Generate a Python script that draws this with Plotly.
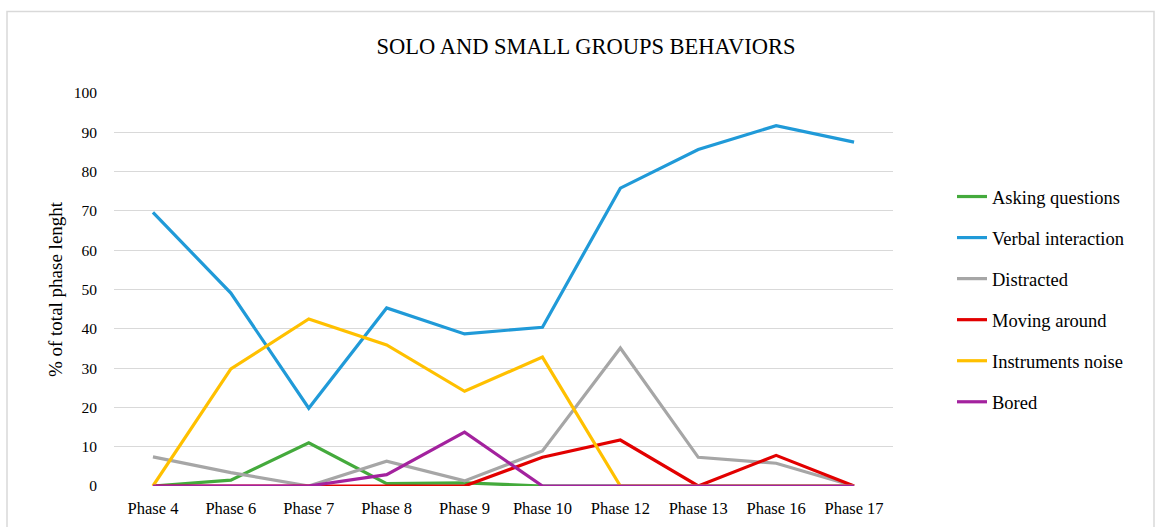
import plotly.graph_objects as go

phases = ["Phase 4", "Phase 6", "Phase 7", "Phase 8", "Phase 9", "Phase 10",
          "Phase 12", "Phase 13", "Phase 16", "Phase 17"]

asking_questions = [0, 1.5, 11.0, 0.6, 0.8, 0, 0, 0, 0, 0]
verbal_interaction = [69.6, 49.1, 19.8, 45.3, 38.7, 40.4, 75.8, 85.6, 91.7, 87.5]
distracted = [7.4, 3.4, 0, 6.3, 1.3, 8.9, 35.1, 7.3, 5.8, 0]
moving_around = [0, 0, 0, 0, 0, 7.3, 11.7, 0, 7.8, 0]
instruments_noise = [0, 29.8, 42.5, 35.9, 24.1, 32.8, 0, 0, 0, 0]
bored = [0, 0, 0, 2.9, 13.7, 0, 0, 0, 0, 0]

series_names = ["Asking questions", "Verbal interaction", "Distracted",
                "Moving around", "Instruments noise", "Bored"]
series_values = [asking_questions, verbal_interaction, distracted,
                 moving_around, instruments_noise, bored]
colors = ["#44AA3C", "#209AD8", "#A6A6A6", "#E20000", "#FFC000", "#A3229E"]

FONT = "Liberation Serif"

fig = go.Figure()
for i, (name, vals, col) in enumerate(zip(series_names, series_values, colors)):
    fig.add_trace(go.Scatter(
        x=phases, y=vals, name=name, mode="lines",
        line=dict(color=col, width=3.2),
        legendgroup=f"g{i}",
    ))

L, R, T, B = 114, 262, 93, 41
W, H = 1155, 527
pw = W - L - R
ph = H - T - B

def px_x(p):
    return (p - L) / pw

def px_y(p):
    return (H - B - p) / ph

fig.update_layout(
    width=W, height=H,
    margin=dict(l=L, r=R, t=T, b=B, autoexpand=False),
    paper_bgcolor="white", plot_bgcolor="white",
    font=dict(family=FONT, color="#000000", size=15),
    title=dict(text="SOLO AND SMALL GROUPS BEHAVIORS", xref="container", x=586 / W,
               xanchor="center", yref="container", y=1 - 46 / H, yanchor="middle",
               font=dict(family=FONT, size=22.5, color="#000000")),
    xaxis=dict(type="category", range=[-0.5, 9.5], showgrid=False, zeroline=False,
               showline=False, ticks="", ticklabelstandoff=10, automargin=False,
               tickfont=dict(size=16.5)),
    yaxis=dict(range=[0, 100], dtick=10, showgrid=True, gridcolor="#D9D9D9",
               gridwidth=1, zeroline=False, showline=False, ticks="",
               ticklabelstandoff=16, automargin=False,
               tickfont=dict(size=15.5),
               title=dict(text="% of total phase lenght", font=dict(size=19), standoff=6)),
    legend=dict(x=px_x(952), xanchor="left", y=px_y(178), yanchor="top",
                font=dict(size=18.5), tracegroupgap=14, bgcolor="rgba(0,0,0,0)"),
    showlegend=True,
    shapes=[dict(type="rect", xref="paper", yref="paper",
                 x0=px_x(7), x1=px_x(1154), y0=px_y(540), y1=px_y(11.5),
                 line=dict(color="#D9D9D9", width=1.5), layer="below")],
)

fig.write_html("out.html", config={"displayModeBar": False},
               post_script="document.body.style.margin='0';")
